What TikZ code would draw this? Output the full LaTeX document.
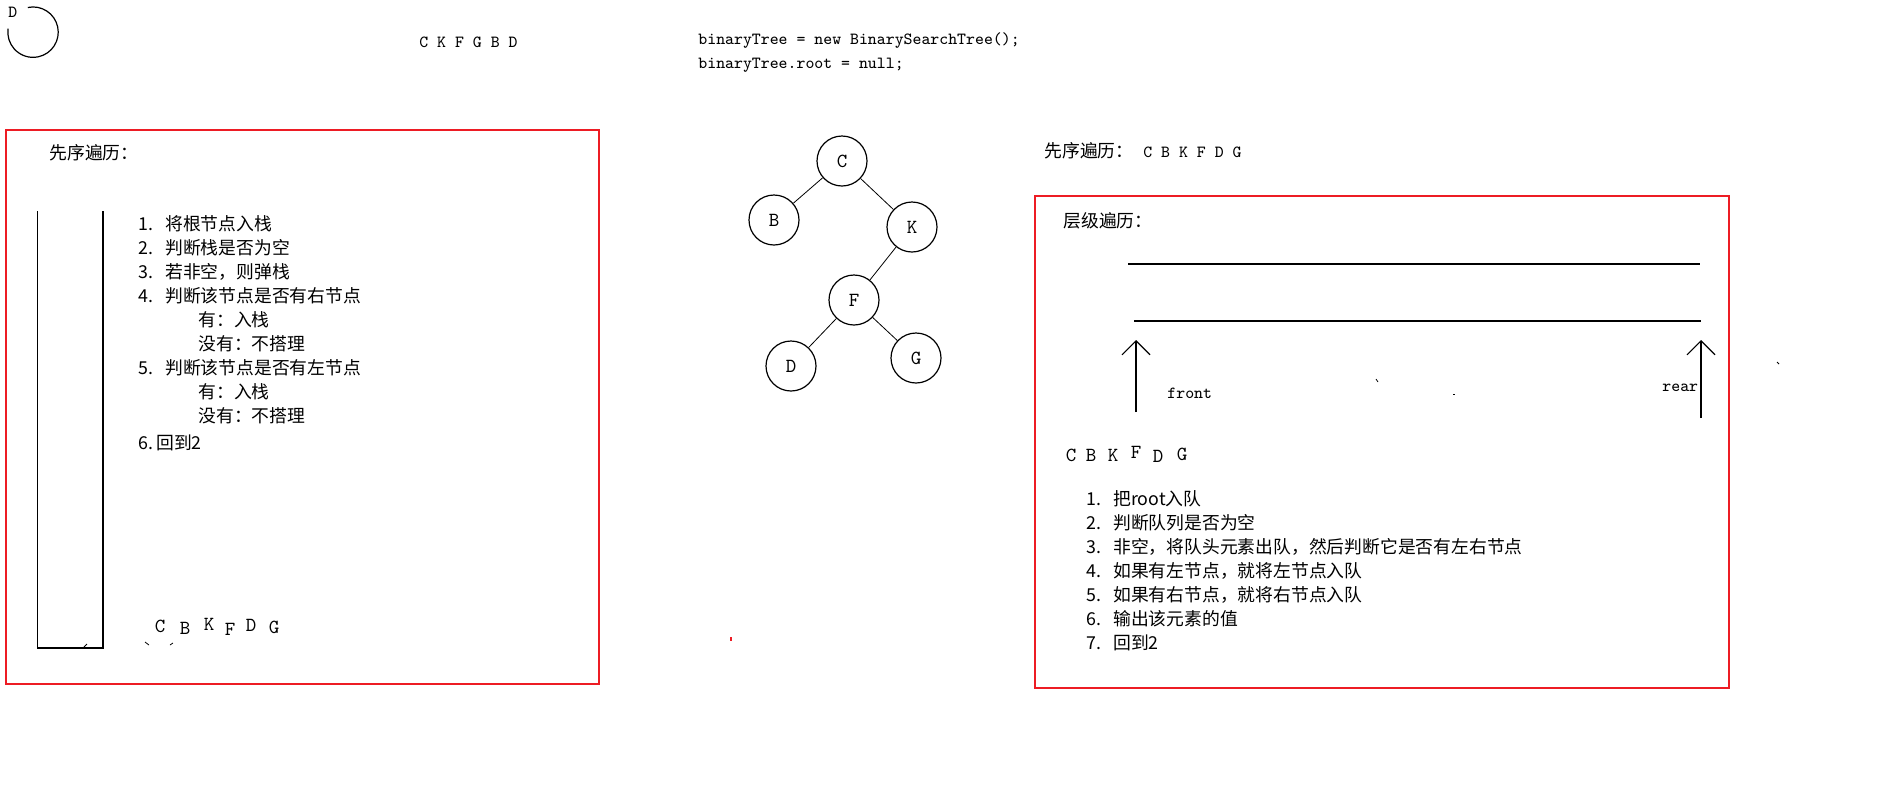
\documentclass[tikz,border=0pt]{standalone}
\usepackage{fontspec}
\usepackage{tikz}
\usetikzlibrary{arrows.meta}
\newfontfamily\cjkfont{Noto Sans CJK SC}
\definecolor{boxred}{RGB}{237,28,36}
\newcommand\zhtext{\cjkfont\fontsize{8.9}{12}\selectfont}
\newcommand\entext{\ttfamily\fontsize{8.5}{12}\selectfont}
\newcommand\bigtext{\ttfamily\fontsize{10}{12}\selectfont}
\newcommand\stepno[1]{\makebox[13.5pt][l]{#1}}

\begin{document}
\begin{tikzpicture}[x=0.5pt,y=-0.5pt,
    treenode/.style={
      % The shape:
      circle,minimum size=25pt,inner sep=0pt,
      % Border
      draw=black,line width=0.6pt,font=\bigtext
      },
    zh/.style={anchor=base west,inner sep=0pt,font=\zhtext},
    en/.style={anchor=base west,inner sep=0pt,font=\entext},
    letter/.style={anchor=base,inner sep=0pt,font=\bigtext},
    % lists sit on the baseline of their last line
    steps/.style={zh,align=left},
    redbox/.style={draw=boxred,line width=0.7pt},
    wall/.style={line width=0.8pt},
    pointer/.style={line width=0.55pt,-{Straight Barb[length=7pt,width=14pt]}}]
  \useasboundingbox (0,0) rectangle (1901,804);

  % top row
  \node (loop-label) [en] at (8,17) {D};
  \draw [line width=0.6pt] (27.8,7.5) arc[start angle=102,end angle=-188,radius=12.6pt];
  \node (order-top) [en] at (419,47) {C K F G B D};
  \node (code-1) [en] at (698,44) {binaryTree = new BinarySearchTree();};
  \node (code-2) [en] at (698,68) {binaryTree.root = null;};

  % preorder with a stack
  \draw [redbox] (6,130) rectangle (599,684);
  \node (pre-title) [zh] at (49,159) {先序遍历：};
  \draw [wall] (37.5,211) -- (37.5,648) -- (103,648) -- (103,211);
  \node (pre-steps) [steps] at (138,449) {\stepno{1.}将根节点入栈\\
    \stepno{2.}判断栈是否为空\\
    \stepno{3.}若非空，则弹栈\\
    \stepno{4.}判断该节点是否有右节点\\
    \hspace*{30pt}有：入栈\\
    \hspace*{30pt}没有：不搭理\\
    \stepno{5.}判断该节点是否有左节点\\
    \hspace*{30pt}有：入栈\\
    \hspace*{30pt}没有：不搭理\\[1.5pt]
    \makebox[9pt][l]{6.}回到2};
  \foreach \ch/\x/\y in {C/160/632,B/185/634,K/209/630,F/230/635,D/251/631,G/274/633}
    \node (pre-\ch) [letter] at (\x,\y) {\ch};

  % the tree
  \node (c) [treenode] at (842,161) {C};
  \node (b) [treenode] at (774,220) {B};
  \node (k) [treenode] at (912,227) {K};
  \node (f) [treenode] at (854,300) {F};
  \node (d) [treenode] at (791,366) {D};
  \node (g) [treenode] at (916,358) {G};
  \draw (c) -- (b);
  \draw (c) -- (k);
  \draw (k) -- (f);
  \draw (f) -- (d);
  \draw (f) -- (g);

  % level order with a queue
  \node (pre-head) [zh] at (1044,157) {先序遍历：};
  \node (pre-result) [en] at (1143,157) {C B K F D G};
  \draw [redbox] (1035,196) rectangle (1729,688);
  \node (level-title) [zh] at (1063,227) {层级遍历：};
  \draw [wall] (1128,264) -- (1700,264);
  \draw [wall] (1134,321) -- (1701,321);
  \coordinate (front-foot) at (1136,412);
  \coordinate (front-tip) at (1136,340);
  \coordinate (rear-foot) at (1701,418);
  \coordinate (rear-tip) at (1701,340);
  \draw [pointer] (front-foot) -- (front-tip);
  \draw [pointer] (rear-foot) -- (rear-tip);
  \node (front) [en] at (1167,398) {front};
  \node (rear) [en] at (1662,391) {rear};
  \foreach \ch/\x/\y in {C/1071/461,B/1091/461,K/1113/461,F/1136/458,D/1158/462,G/1182/460}
    \node (lvl-\ch) [letter] at (\x,\y) {\ch};
  \node (level-steps) [steps] at (1086,649) {\stepno{1.}把root入队\\
    \stepno{2.}判断队列是否为空\\
    \stepno{3.}非空，将队头元素出队，然后判断它是否有左右节点\\
    \stepno{4.}如果有左节点，就将左节点入队\\
    \stepno{5.}如果有右节点，就将右节点入队\\
    \stepno{6.}输出该元素的值\\
    \stepno{7.}回到2};

  % stray marks
  \draw [line width=0.4pt] (145,642) -- (149,645);
  \draw [line width=0.4pt] (170,645) -- (173,643);
  \draw [line width=0.4pt] (84,647) -- (87,644);
  \draw [line width=0.4pt] (1376,379) -- (1378,382);
  \draw [line width=0.4pt] (1453,394) -- (1455,394);
  \draw [line width=0.4pt] (1777,362) -- (1779,364);
  \draw [boxred,line width=0.6pt] (731,637) -- (731,641);
\end{tikzpicture}
\end{document}
